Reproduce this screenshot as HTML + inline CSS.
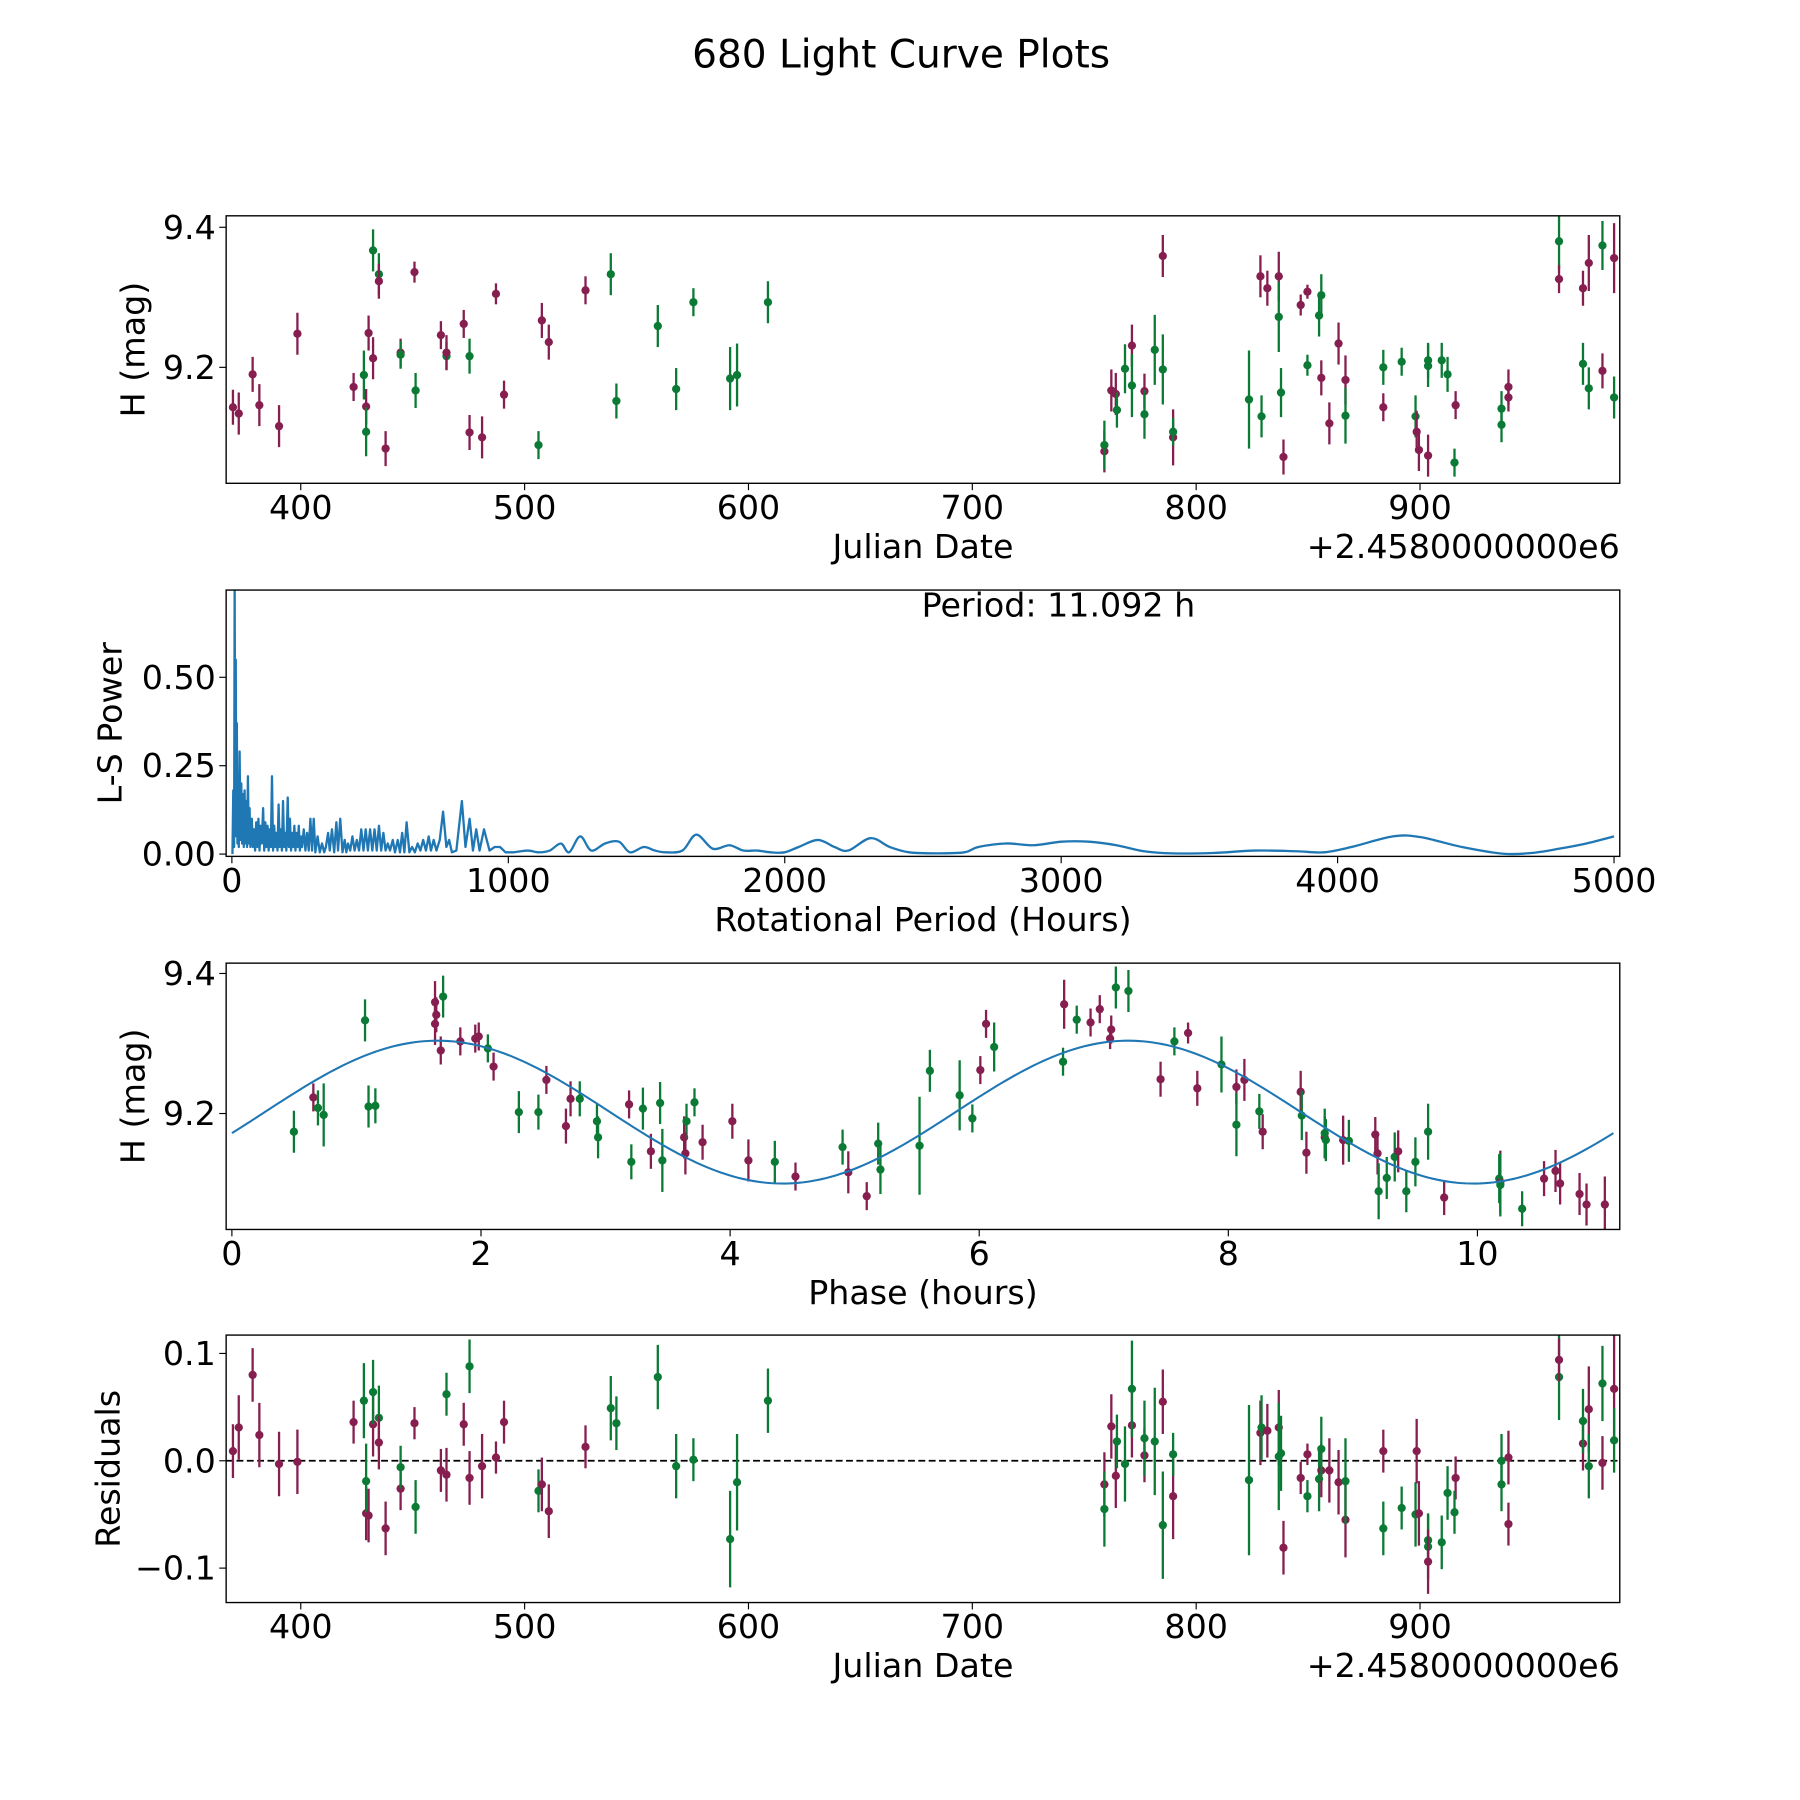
<!DOCTYPE html>
<html><head><meta charset="utf-8"><style>
html,body{margin:0;padding:0;background:#fff;}
svg{display:block;font-family:"DejaVu Sans","Liberation Sans",sans-serif;}
</style></head><body>
<svg id="fig" width="1800" height="1800" viewBox="0 0 1568 1568" xmlns="http://www.w3.org/2000/svg">
<rect width="1568" height="1568" fill="#fff"/>
<text x="785" y="59" font-size="34" text-anchor="middle">680 Light Curve Plots</text>
<g id="layer"></g>
</svg>
<script>
// ---- Panel 1 / 4 data: observations ----
const jd = [369.7,372.3,378.5,381.5,390.3,398.5,423.6,428.2,429.2,429.2,430.3,432.3,432.3,434.9,434.9,437.9,444.6,444.6,450.8,451.3,462.6,465.1,465.1,472.8,475.4,475.4,481.0,487.2,490.8,506.2,507.7,510.8,527.2,538.5,541.0,559.5,567.7,575.4,591.8,594.9,608.7,759.0,759.0,762.1,764.1,764.6,768.2,771.3,771.3,776.9,776.9,781.5,785.1,785.1,789.7,789.7,823.6,828.7,829.2,831.8,836.9,836.9,839.0,837.9,846.7,849.7,849.7,854.9,855.9,855.9,859.5,863.6,866.7,866.7,883.6,883.6,891.8,898.0,898.5,899.5,903.6,903.6,903.6,909.7,912.3,915.9,915.4,936.4,936.4,939.5,939.5,962.1,962.1,972.8,972.8,975.4,975.4,981.5,981.5,986.7,986.7];
const mag = [9.143,9.134,9.190,9.146,9.116,9.248,9.172,9.189,9.144,9.108,9.249,9.213,9.367,9.333,9.323,9.084,9.221,9.218,9.336,9.167,9.246,9.216,9.221,9.262,9.216,9.107,9.100,9.305,9.161,9.089,9.267,9.236,9.310,9.333,9.152,9.259,9.169,9.293,9.184,9.189,9.293,9.080,9.089,9.167,9.162,9.139,9.198,9.231,9.174,9.166,9.133,9.225,9.359,9.197,9.100,9.108,9.154,9.330,9.130,9.313,9.330,9.272,9.072,9.164,9.289,9.308,9.203,9.274,9.185,9.303,9.120,9.234,9.182,9.131,9.200,9.143,9.208,9.130,9.108,9.082,9.210,9.202,9.074,9.210,9.190,9.146,9.064,9.141,9.118,9.172,9.157,9.380,9.326,9.313,9.205,9.349,9.170,9.374,9.195,9.356,9.157];
const magErr = [0.025,0.03,0.025,0.03,0.03,0.03,0.02,0.035,0.025,0.035,0.025,0.03,0.03,0.03,0.025,0.025,0.02,0.02,0.015,0.025,0.02,0.02,0.025,0.02,0.025,0.025,0.03,0.015,0.02,0.02,0.025,0.025,0.02,0.03,0.025,0.03,0.03,0.02,0.045,0.045,0.03,0.03,0.035,0.03,0.03,0.025,0.035,0.03,0.045,0.025,0.035,0.05,0.03,0.05,0.04,0.02,0.07,0.03,0.03,0.025,0.035,0.05,0.025,0.035,0.015,0.01,0.015,0.03,0.025,0.03,0.03,0.03,0.035,0.04,0.025,0.02,0.02,0.03,0.03,0.03,0.025,0.03,0.03,0.025,0.025,0.02,0.02,0.025,0.025,0.025,0.02,0.04,0.02,0.025,0.03,0.04,0.03,0.035,0.025,0.05,0.03];
const obsType = ['m','m','m','m','m','m','m','g','m','g','m','m','g','g','m','m','m','g','m','g','m','g','m','m','g','m','m','m','m','g','m','m','m','g','g','g','g','g','g','g','g','m','g','m','m','g','g','m','g','m','g','g','m','g','m','g','g','m','g','m','m','g','m','g','m','m','g','g','m','g','m','m','m','g','g','m','g','g','m','m','g','g','m','g','g','m','g','g','g','m','m','g','m','m','g','m','g','g','m','m','g'];
const resid = [0.009,0.031,0.080,0.024,-0.003,-0.001,0.036,0.056,-0.049,-0.019,-0.051,0.034,0.064,0.040,0.017,-0.063,-0.026,-0.006,0.035,-0.043,-0.009,0.062,-0.013,0.034,0.088,-0.016,-0.005,0.003,0.036,-0.028,-0.022,-0.047,0.013,0.049,0.035,0.078,-0.005,0.001,-0.073,-0.020,0.056,-0.022,-0.045,0.032,-0.014,0.018,-0.003,0.033,0.067,0.005,0.021,0.018,0.055,-0.060,-0.033,0.006,-0.018,0.026,0.031,0.028,0.031,0.004,-0.081,0.007,-0.016,0.006,-0.033,-0.017,-0.009,0.011,-0.009,-0.020,-0.055,-0.019,-0.063,0.009,-0.044,-0.050,0.009,-0.049,-0.074,-0.080,-0.094,-0.076,-0.030,-0.016,-0.048,0.000,-0.022,0.003,-0.059,0.078,0.094,0.016,0.037,0.048,-0.005,0.072,-0.002,0.067,0.019];
const jdTicks = [400,500,600,700,800,900];
// ---- Panel 2: periodogram ----
const lsPeriod = [2,5,8,10,12,14,16,18,20,22,25,28,31,34,37,40,43,46,49,52,55,58,61,64,67,72,76,80,84,88,92,96,100,104,108,113,117,121,125,129,133,137,141,145,149,153,157,161,165,169,173,177,181,185,189,193,197,202,206,210,214,218,222,226,230,234,238,242,246,250,254,260,266,272,278,284,290,296,302,310,318,326,334,340,348,354,362,370,378,384,392,400,408,414,420,428,436,444,452,460,468,476,484,492,500,508,516,524,532,540,548,556,564,572,582,590,600,608,616,624,632,642,652,662,672,682,692,702,712,720,730,740,752,764,776,786,796,812,822,832,845,860,872,884,896,912,932,950,970,990,1020,1070,1110,1150,1190,1220,1260,1300,1350,1400,1440,1490,1530,1570,1630,1680,1740,1800,1850,1900,1950,2000,2050,2120,2180,2230,2310,2380,2450,2550,2650,2700,2800,2900,3000,3100,3200,3300,3400,3550,3700,3850,3950,4050,4200,4300,4450,4600,4700,4800,4900,5000];
const lsPower = [0,0.18,0.02,0.78,0.1,0.55,0.05,0.37,0.03,0.2,0.02,0.29,0.04,0.2,0.03,0.17,0.02,0.18,0.03,0.15,0.02,0.22,0.03,0.13,0.02,0.1,0.02,0.07,0.01,0.09,0.02,0.1,0.01,0.08,0.03,0.13,0.01,0.09,0.02,0.08,0.01,0.07,0.02,0.22,0.01,0.08,0.02,0.06,0.01,0.14,0.02,0.07,0.01,0.15,0.02,0.06,0.01,0.16,0.02,0.1,0.01,0.06,0.02,0.08,0.01,0.06,0.02,0.08,0.01,0.05,0.02,0.07,0.01,0.06,0.01,0.1,0.01,0.1,0.005,0.05,0.005,0.03,0.005,0.02,0.06,0.01,0.07,0.005,0.09,0.01,0.1,0.005,0.04,0.005,0.03,0.01,0.05,0.01,0.04,0.01,0.07,0.01,0.07,0.01,0.07,0.01,0.07,0.01,0.08,0.01,0.06,0.01,0.03,0.01,0.04,0.005,0.04,0.005,0.06,0.005,0.09,0.005,0.02,0.005,0.03,0.01,0.04,0.01,0.05,0.01,0.04,0.01,0.04,0.12,0.02,0.04,0.005,0.01,0.08,0.15,0.02,0.1,0.01,0.07,0.01,0.07,0.01,0.02,0.02,0.005,0.005,0.01,0.005,0.01,0.03,0.005,0.05,0.01,0.03,0.035,0.005,0.02,0.01,0.005,0.01,0.055,0.015,0.025,0.01,0.01,0.005,0.005,0.02,0.04,0.02,0.01,0.045,0.02,0.005,0.002,0.005,0.02,0.03,0.025,0.035,0.035,0.025,0.008,0.002,0.003,0.01,0.008,0.005,0.02,0.05,0.048,0.02,0.001,0.003,0.015,0.03,0.05];
const lsXTicks = [0,1000,2000,3000,4000,5000];
const lsYTicks = [0.00,0.25,0.50];
// ---- Panel 3: phased ----
const phase = [0.498,0.654,0.691,0.737,1.069,1.097,1.152,1.631,1.631,1.641,1.696,1.677,1.834,1.954,1.982,2.055,2.101,2.304,2.461,2.525,2.682,2.719,2.793,2.931,2.940,3.189,3.207,3.300,3.364,3.438,3.456,3.631,3.650,3.641,3.714,3.779,4.018,4.147,4.359,4.525,4.903,4.949,5.097,5.189,5.207,5.521,5.604,5.843,5.945,6.009,6.055,6.120,6.673,6.682,6.783,6.894,6.968,7.051,7.060,7.097,7.198,7.456,7.567,7.677,7.751,7.945,8.065,8.065,8.129,8.249,8.276,8.581,8.590,8.627,8.774,8.774,8.783,8.922,8.968,9.180,9.198,9.207,9.272,9.336,9.364,9.429,9.502,9.604,9.733,10.175,10.184,10.184,10.359,10.535,10.627,10.664,10.820,10.876,11.023];
const phaseMag = [9.174,9.223,9.208,9.198,9.333,9.210,9.211,9.359,9.328,9.341,9.367,9.290,9.303,9.307,9.310,9.293,9.267,9.202,9.202,9.248,9.182,9.221,9.221,9.189,9.166,9.213,9.131,9.207,9.146,9.215,9.133,9.166,9.189,9.143,9.216,9.159,9.189,9.133,9.131,9.110,9.152,9.116,9.082,9.157,9.120,9.154,9.261,9.226,9.193,9.262,9.328,9.295,9.274,9.356,9.334,9.330,9.349,9.307,9.320,9.380,9.375,9.249,9.303,9.315,9.236,9.270,9.238,9.184,9.248,9.203,9.174,9.231,9.197,9.144,9.166,9.172,9.162,9.162,9.161,9.170,9.143,9.089,9.108,9.138,9.146,9.089,9.131,9.174,9.080,9.107,9.102,9.098,9.064,9.107,9.118,9.100,9.085,9.070,9.070];
const phaseErr = [0.03,0.02,0.025,0.045,0.03,0.03,0.025,0.03,0.03,0.025,0.03,0.02,0.02,0.02,0.02,0.02,0.02,0.03,0.025,0.02,0.025,0.025,0.025,0.025,0.03,0.02,0.025,0.03,0.025,0.03,0.045,0.03,0.025,0.03,0.02,0.025,0.025,0.03,0.03,0.02,0.025,0.03,0.02,0.03,0.035,0.07,0.03,0.05,0.02,0.02,0.02,0.035,0.02,0.035,0.02,0.02,0.02,0.015,0.02,0.03,0.03,0.025,0.02,0.015,0.025,0.04,0.025,0.045,0.03,0.025,0.025,0.03,0.035,0.03,0.03,0.035,0.03,0.035,0.03,0.025,0.03,0.04,0.03,0.035,0.03,0.03,0.035,0.04,0.025,0.035,0.045,0.045,0.025,0.025,0.03,0.03,0.03,0.03,0.04];
const phaseType = ['g','m','g','g','g','g','g','m','m','m','g','m','m','m','m','g','m','g','g','m','m','m','g','g','g','m','g','g','m','g','g','m','g','m','g','m','m','m','g','m','g','m','m','g','g','g','g','g','g','m','m','g','g','m','g','m','m','m','m','g','g','m','g','m','m','g','m','g','m','g','m','m','g','m','m','g','g','m','g','m','m','g','g','g','m','g','g','g','m','g','m','g','g','m','m','m','m','m','m'];
const phaseXTicks = [0,2,4,6,8,10];
const magYTicks = [9.2,9.4];
const residTicks = [-0.1,0.0,0.1];
const modelMean = 9.202, modelAmp = 0.102, modelPeak = 1.65, modelHalfPeriod = 5.546;

const NS = 'http://www.w3.org/2000/svg';
const layer = document.getElementById('layer');
function el(tag, attrs, parent) {
  const e = document.createElementNS(NS, tag);
  for (const k in attrs) e.setAttribute(k, attrs[k]);
  (parent || layer).appendChild(e);
  return e;
}
const COL = {m:'#861f50', g:'#0b7a35'};
const L = 197, R = 1411, FS = 29;
function lin(d0,d1,r0,r1){return v => r0 + (v-d0)*(r1-r0)/(d1-d0);}

function axes(name, top, bot, xs, ys, xt, yt, xfmt, yfmt, xlabel, ylabel, ylabX, offset) {
  const g = el('g', {});
  
  
  xt.forEach(t => {
    const x = xs(t);
    el('line', {x1:x, x2:x, y1:bot, y2:bot+6, stroke:'#000', 'stroke-width':1}, g);
    const tx = el('text', {x:x, y:bot+31, 'font-size':FS, 'text-anchor':'middle'}, g);
    tx.textContent = xfmt(t);
    
    
  });
  yt.forEach(t => {
    const y = ys(t);
    el('line', {x1:L-6, x2:L, y1:y, y2:y, stroke:'#000', 'stroke-width':1}, g);
    const tx = el('text', {x:L-9, y:y+10, 'font-size':FS, 'text-anchor':'end'}, g);
    tx.textContent = yfmt(t);
    
    
  });
  const xl = el('text', {x:(L+R)/2, y:bot+65, 'font-size':FS, 'text-anchor':'middle'}, g);
  xl.textContent = xlabel;
  
  
  const cy = (top+bot)/2;
  const yl = el('text', {x:ylabX, y:cy, 'font-size':FS, 'text-anchor':'middle', transform:`rotate(-90 ${ylabX} ${cy})`}, g);
  yl.textContent = ylabel;
  
  
  if (offset) {
    const o = el('text', {x:R, y:bot+65, 'font-size':FS, 'text-anchor':'end'}, g);
    o.textContent = offset;
    
    
  }
  return g;
}
function frame(name, top, bot) {
  const r = el('rect', {x:L, y:top, width:R-L, height:bot-top, fill:'none', stroke:'#000', 'stroke-width':1.2});
  
  
}
function clip(id, top, bot) {
  const c = el('clipPath', {id:id});
  el('rect', {x:L, y:top, width:R-L, height:bot-top}, c);
}
function points(name, xsArr, ysArr, errArr, types, xs, ys, clipId) {
  const g = el('g', {'clip-path':`url(#${clipId})`});
  
  
  xsArr.forEach((v,i) => {
    const x = xs(v), c = COL[types[i]];
    const y = ys(ysArr[i]);
    const e = errArr[i];
    const ln = el('line', {x1:x, x2:x, y1:ys(ysArr[i]-e), y2:ys(ysArr[i]+e), stroke:c, 'stroke-width':2}, g);
    
    
    const p = el('circle', {cx:x, cy:y, r:3.6, fill:c}, g);
    
    
  });
}

// Panel 1
{
  const top=188, bot=421;
  const xs = lin(400,900,262,1237), ys = lin(9.4,9.2,198,320);
  clip('c1', top, bot);
  points('light-curve-points', jd, mag, magErr, obsType, xs, ys, 'c1');
  frame('light-curve-axes', top, bot);
  axes('light-curve-axis', top, bot, xs, ys, jdTicks, magYTicks, t=>String(t), t=>t.toFixed(1), 'Julian Date', 'H (mag)', 126, '+2.4580000000e6');
}
// Panel 2
{
  const top=514, bot=746;
  const xs = lin(0,5000,202,1406), ys = lin(0,0.5,744,590);
  clip('c2', top, bot);
  const P = lsPeriod.map((p,i) => [xs(p), ys(lsPower[i])]);
  let d = 'M' + P[0][0].toFixed(2) + ',' + P[0][1].toFixed(2);
  for (let i=0;i<P.length-1;i++){
    const p0 = P[Math.max(0,i-1)], p1 = P[i], p2 = P[i+1], p3 = P[Math.min(P.length-1,i+2)];
    if (lsPeriod[i] < 1000) { d += 'L' + p2[0].toFixed(2) + ',' + p2[1].toFixed(2); continue; }
    const c1 = [p1[0]+(p2[0]-p0[0])/6, p1[1]+(p2[1]-p0[1])/6];
    const c2 = [p2[0]-(p3[0]-p1[0])/6, p2[1]-(p3[1]-p1[1])/6];
    d += `C${c1[0].toFixed(2)},${c1[1].toFixed(2)} ${c2[0].toFixed(2)},${c2[1].toFixed(2)} ${p2[0].toFixed(2)},${p2[1].toFixed(2)}`;
  }
  const pl = el('path', {d:d, fill:'none', stroke:'#1f77b4', 'stroke-width':2, 'clip-path':'url(#c2)', 'stroke-linejoin':'round'});
  
  
  frame('periodogram-axes', top, bot);
  axes('periodogram-axis', top, bot, xs, ys, lsXTicks, lsYTicks, t=>String(t), t=>t.toFixed(2), 'Rotational Period (Hours)', 'L-S Power', 106, null);
  const pt = el('text', {x:922, y:537, 'font-size':FS, 'text-anchor':'middle'});
  pt.textContent = 'Period: 11.092 h';
  
  
}
// Panel 3
{
  const top=839, bot=1071;
  const xs = lin(0,10,202,1287), ys = lin(9.4,9.2,848,970);
  clip('c3', top, bot);
  points('phased-points', phase, phaseMag, phaseErr, phaseType, xs, ys, 'c3');
  let d='';
  for (let i=0;i<=300;i++){ const p = 11.092*i/300; const m = modelMean + modelAmp*Math.cos(2*Math.PI*(p-modelPeak)/modelHalfPeriod); d += (i?'L':'M') + xs(p).toFixed(2)+','+ys(m).toFixed(2); }
  const ml = el('path', {d:d, fill:'none', stroke:'#1f77b4', 'stroke-width':1.8});
  
  
  frame('phased-axes', top, bot);
  axes('phased-axis', top, bot, xs, ys, phaseXTicks, magYTicks, t=>String(t), t=>t.toFixed(1), 'Phase (hours)', 'H (mag)', 126, null);
}
// Panel 4
{
  const top=1163, bot=1396;
  const xs = lin(400,900,262,1237), ys = lin(0.1,-0.1,1179,1366);
  clip('c4', top, bot);
  const zl = el('line', {x1:L, x2:R, y1:ys(0), y2:ys(0), stroke:'#000', 'stroke-width':1.5, 'stroke-dasharray':'6,3'});
  
  
  points('residual-points', jd, resid, magErr, obsType, xs, ys, 'c4');
  frame('residual-axes', top, bot);
  axes('residual-axis', top, bot, xs, ys, jdTicks, residTicks, t=>String(t), t=>(t<0?'\u22120.1':t.toFixed(1)), 'Julian Date', 'Residuals', 104, '+2.4580000000e6');
}
</script>
</body></html>
